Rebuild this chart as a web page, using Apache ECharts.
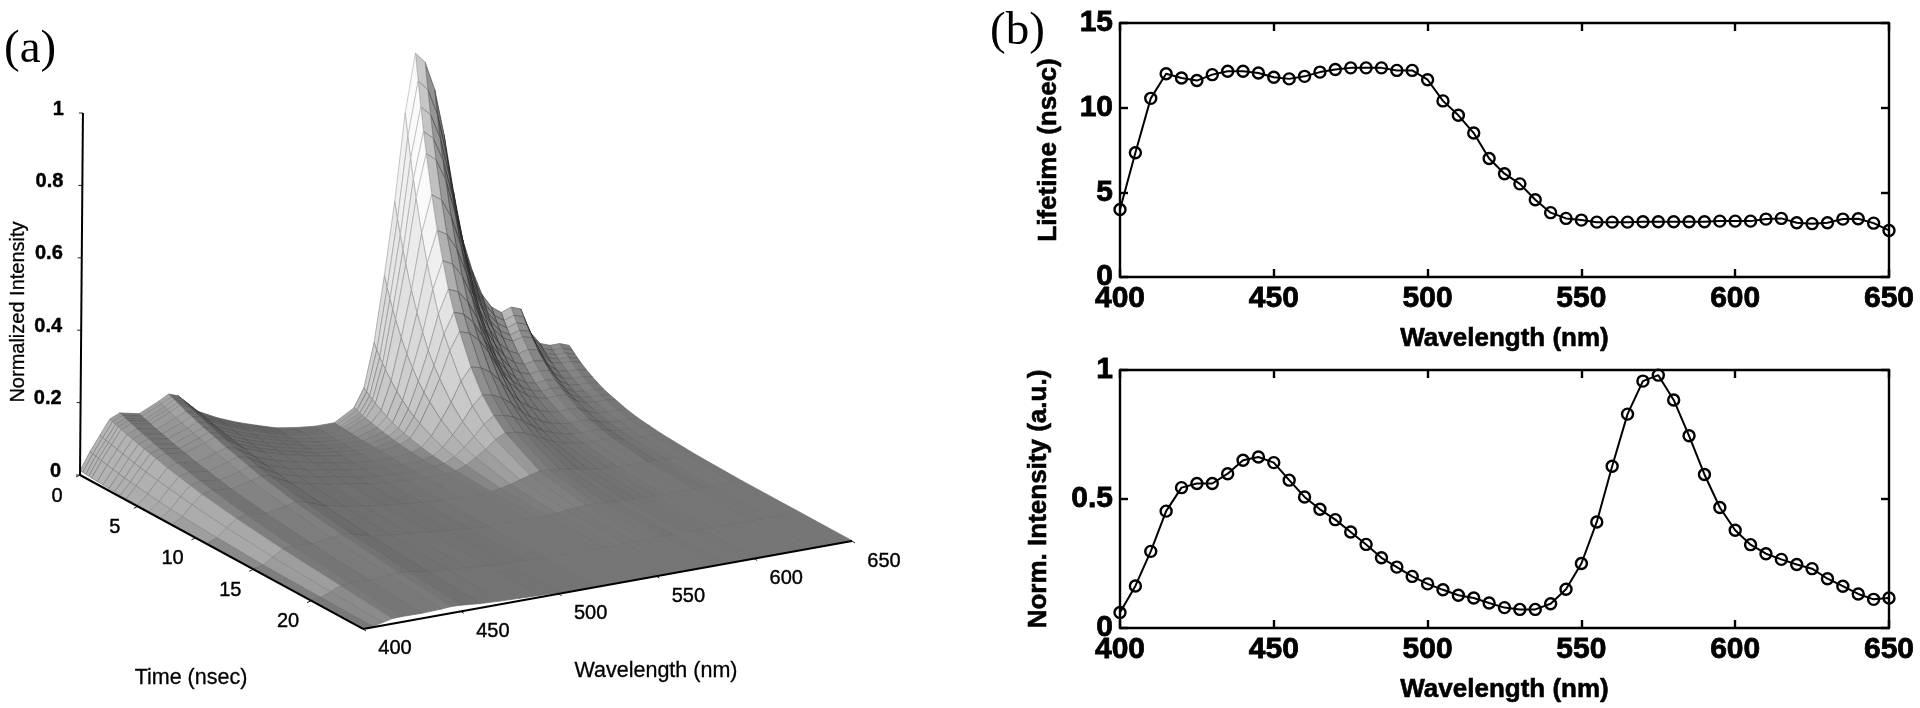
<!DOCTYPE html>
<html>
<head>
<meta charset="utf-8">
<style>
html,body{margin:0;padding:0;background:#fff;}
#c{width:1920px;height:708px;filter:blur(0.6px);}
</style>
<script src="https://cdn.jsdelivr.net/npm/echarts@6/dist/echarts.min.js"></script>
</head>
<body>
<div id="c"></div>
<script>
// ---------- panel (b) ----------
const bWavelengths = [400,405,410,415,420,425,430,435,440,445,450,455,460,465,470,475,480,485,490,495,500,505,510,515,520,525,530,535,540,545,550,555,560,565,570,575,580,585,590,595,600,605,610,615,620,625,630,635,640,645,650];
const lifetime = [3.99,7.34,10.55,12.0,11.75,11.6,11.95,12.15,12.15,12.05,11.8,11.7,11.85,12.1,12.25,12.35,12.35,12.35,12.2,12.2,11.65,10.4,9.55,8.5,7.0,6.1,5.5,4.56,3.8,3.46,3.36,3.24,3.24,3.24,3.26,3.26,3.26,3.26,3.26,3.3,3.3,3.3,3.42,3.46,3.2,3.15,3.2,3.42,3.44,3.18,2.75];
const normIntensity = [0.06,0.163,0.297,0.453,0.544,0.56,0.56,0.598,0.65,0.663,0.641,0.573,0.508,0.46,0.42,0.372,0.324,0.272,0.236,0.2,0.171,0.148,0.127,0.116,0.097,0.079,0.072,0.072,0.094,0.15,0.25,0.411,0.627,0.829,0.957,0.98,0.884,0.745,0.595,0.467,0.379,0.323,0.288,0.266,0.246,0.23,0.191,0.162,0.132,0.111,0.116];

// ---------- panel (a) ----------
const surfaceTimes = [0,0.25,0.5,0.75,1,1.5,2,2.5,3,3.5,4,5,6,7,8,11,15,20,24.5];
const surfaceWavelengths = [400,405,410,415,420,430,440,445,450,460,470,480,490,500,510,520,530,540,545,550,555,560,565,570,575,580,585,590,595,600,605,610,615,620,625,630,635,640,645,650];
const intensityT0   = [.012,.06,.10,.14,.152,.14,.165,.18,.17,.118,.09,.068,.05,.033,.024,.018,.018,.05,.10,.22,.40,.60,.84,1.0,.97,.89,.76,.60,.46,.37,.30,.26,.24,.25,.24,.17,.135,.125,.125,.115];
const intensityT025 = [.012,.058,.098,.137,.149,.137,.162,.176,.167,.116,.088,.067,.049,.032,.023,.017,.017,.047,.093,.204,.371,.556,.779,.927,.899,.825,.705,.556,.426,.343,.278,.241,.222,.232,.222,.158,.125,.116,.116,.107];
const intensityT05  = [.011,.056,.095,.134,.146,.134,.158,.173,.163,.113,.086,.065,.048,.032,.023,.017,.016,.044,.086,.189,.344,.516,.722,.86,.834,.765,.654,.516,.396,.318,.258,.224,.206,.215,.206,.146,.116,.108,.108,.099];
const intensityT075 = [.01,.054,.093,.132,.143,.132,.155,.169,.16,.111,.085,.064,.047,.031,.022,.016,.016,.041,.08,.175,.319,.478,.669,.797,.773,.709,.606,.478,.367,.295,.239,.207,.191,.199,.191,.135,.108,.1,.1,.092];
const intensityT1   = [.009,.052,.091,.129,.14,.129,.152,.166,.156,.109,.083,.063,.046,.03,.022,.016,.015,.038,.074,.163,.296,.444,.622,.74,.718,.659,.562,.444,.34,.274,.222,.192,.178,.185,.178,.126,.1,.093,.093,.085];
const intensityT15  = [.008,.049,.087,.123,.134,.123,.145,.158,.15,.104,.079,.06,.044,.029,.02,.014,.014,.034,.064,.14,.254,.381,.533,.635,.616,.565,.483,.381,.292,.235,.191,.165,.152,.159,.152,.108,.086,.079,.079,.073];
const intensityT2   = [.007,.045,.083,.119,.129,.119,.14,.153,.145,.1,.077,.058,.043,.028,.019,.013,.012,.03,.055,.12,.218,.327,.458,.545,.529,.485,.414,.327,.251,.202,.164,.142,.131,.136,.131,.093,.074,.068,.068,.063];
const intensityT25  = [.006,.042,.079,.114,.124,.114,.134,.146,.139,.096,.073,.055,.041,.027,.018,.012,.011,.026,.047,.103,.188,.282,.395,.47,.456,.418,.357,.282,.216,.174,.141,.122,.113,.118,.113,.08,.063,.059,.059,.054];
const intensityT3   = [.006,.039,.075,.109,.119,.109,.129,.14,.133,.092,.07,.053,.039,.026,.018,.012,.01,.023,.04,.088,.16,.24,.336,.40,.388,.356,.304,.24,.184,.148,.12,.104,.096,.1,.096,.068,.054,.05,.05,.046];
const intensityT35  = [.005,.036,.071,.105,.114,.105,.124,.135,.127,.088,.067,.051,.037,.025,.017,.011,.009,.02,.035,.076,.138,.207,.29,.345,.335,.307,.262,.207,.159,.128,.104,.09,.083,.086,.083,.059,.047,.043,.043,.04];
const intensityT4   = [.004,.034,.068,.101,.109,.101,.119,.13,.122,.085,.065,.049,.036,.024,.016,.01,.009,.017,.03,.066,.12,.18,.252,.30,.291,.267,.228,.18,.138,.111,.09,.078,.072,.075,.072,.051,.041,.038,.038,.035];
const intensityT5   = [.003,.03,.062,.092,.1,.092,.109,.119,.112,.078,.059,.045,.033,.022,.014,.009,.007,.013,.022,.048,.088,.132,.185,.22,.213,.196,.167,.132,.101,.081,.066,.057,.053,.055,.053,.037,.03,.028,.028,.025];
const intensityT6   = [.003,.026,.057,.085,.093,.085,.101,.11,.104,.072,.055,.041,.031,.02,.013,.008,.006,.01,.016,.035,.064,.096,.134,.16,.155,.142,.122,.096,.074,.059,.048,.042,.038,.04,.038,.027,.022,.02,.02,.018];
const intensityT7   = [.002,.022,.052,.078,.085,.078,.092,.101,.095,.066,.05,.038,.028,.018,.011,.007,.005,.008,.012,.026,.048,.072,.101,.12,.116,.107,.091,.072,.055,.044,.036,.031,.029,.03,.029,.02,.016,.015,.015,.014];
const intensityT8   = [.002,.019,.047,.071,.078,.071,.084,.092,.087,.06,.046,.035,.026,.017,.01,.006,.004,.006,.009,.02,.036,.054,.076,.09,.087,.08,.068,.054,.041,.033,.027,.023,.022,.023,.022,.015,.012,.011,.011,.01];
const intensityT11  = [.001,.013,.035,.056,.061,.056,.066,.072,.068,.047,.036,.027,.02,.013,.007,.004,.003,.003,.004,.008,.014,.022,.03,.036,.035,.032,.027,.022,.017,.013,.011,.009,.009,.009,.009,.006,.005,.005,.005,.004];
const intensityT15n = [.001,.007,.024,.041,.044,.041,.048,.052,.049,.034,.026,.02,.015,.01,.005,.002,.002,.001,.001,.002,.004,.007,.009,.011,.011,.01,.008,.007,.005,.004,.003,.003,.003,.003,.003,.002,.001,.001,.001,.001];
const intensityT20  = [0,.004,.015,.027,.029,.027,.031,.034,.032,.022,.017,.013,.01,.006,.003,.001,.001,.001,.001,.001,.001,.002,.002,.003,.003,.003,.002,.002,.002,.001,.001,.001,.001,.001,.001,.001,.001,.001,.001,.001];
const intensityT24  = [0,.002,.008,.014,.015,.014,.016,.018,.017,.012,.009,.007,.005,.003,.002,.001,.001,.001,.001,.001,.001,.001,.001,.001,.001,.001,.001,.001,.001,.001,.001,.001,.001,.001,.001,.001,.001,.001,.001,.001];
const surfaceRows = [intensityT0,intensityT025,intensityT05,intensityT075,intensityT1,intensityT15,intensityT2,intensityT25,intensityT3,intensityT35,intensityT4,intensityT5,intensityT6,intensityT7,intensityT8,intensityT11,intensityT15n,intensityT20,intensityT24];
const timeTicks = [0,5,10,15,20];
const wavelengthTicks = [400,450,500,550,600,650];
const intensityTicks = [0,0.2,0.4,0.6,0.8,1];
const timeEnd = 24.5;

// oblique view of the (time, wavelength, intensity) box onto the hidden scene axes
function project(t, wl, z) {
  return [(wl - 400) + t * 5.906 + z * 1.5, z + (wl - 400) * 0.000972 - t * 0.01736];
}

const cellData = [];
for (let i = 0; i < surfaceTimes.length - 1; i++) {
  for (let j = surfaceWavelengths.length - 2; j >= 0; j--) cellData.push([i, j]);
}

function renderCell(params, api) {
  const i = api.value(0), j = api.value(1);
  const t0 = surfaceTimes[i], t1 = surfaceTimes[i + 1];
  const w0 = surfaceWavelengths[j], w1 = surfaceWavelengths[j + 1];
  const a = surfaceRows[i][j], b = surfaceRows[i][j + 1], c = surfaceRows[i + 1][j + 1], d = surfaceRows[i + 1][j];
  const pts = [api.coord(project(t0, w0, a)), api.coord(project(t0, w1, b)), api.coord(project(t1, w1, c)), api.coord(project(t1, w0, d))];
  const sL = ((b + c) / 2 - (a + d) / 2) / (w1 - w0) * 250;
  const sT = ((a + b) / 2 - (c + d) / 2) / (t1 - t0) * timeEnd;
  let g = 118;
  let front = 160 * Math.tanh(sT / 6);
  if (sL > 0) {
    g += 42 * Math.tanh(2 * sL * sL) + 34 * Math.tanh(sL / 4);
    front *= 1 - 0.6 * Math.tanh(sL / 6);
  } else {
    g -= 12 * Math.tanh(-3 * sL) + 30 * Math.tanh(-sL / 4);
    front *= 1 - 0.9 * Math.tanh(-sL / 6);
  }
  g = Math.max(40, Math.min(250, Math.round(g + front)));
  const steep = Math.min(1, (Math.abs(sL) + Math.abs(sT)) / 3);
  const e = Math.max(30, Math.round(g - 8 - 60 * steep));
  return {
    type: 'polygon',
    shape: { points: pts },
    style: { fill: 'rgb(' + g + ',' + g + ',' + g + ')', stroke: 'rgb(' + e + ',' + e + ',' + e + ')', lineWidth: 0.7 }
  };
}

const tickFont = '20px "Liberation Sans"';
function tickRenderer(toPoint, dx, dy, tx, ty, align, font, fmt) {
  return function (params, api) {
    const v = api.value(0);
    const p = api.coord(toPoint(v));
    return {
      type: 'group',
      children: [
        { type: 'line', shape: { x1: p[0], y1: p[1], x2: p[0] + dx, y2: p[1] + dy }, style: { stroke: '#222', lineWidth: 1 } },
        { type: 'text', x: p[0] + tx, y: p[1] + ty, style: { text: fmt(v), font: font, fill: '#000', stroke: '#000', lineWidth: 0.4, textAlign: align, textVerticalAlign: 'middle' } }
      ]
    };
  };
}

const axisLabelB = { color: '#000', fontFamily: 'Liberation Sans', fontWeight: 'bold', fontSize: 30, margin: 7, textBorderColor: '#000', textBorderWidth: 0.8 };
const nameB = { color: '#000', fontFamily: 'Liberation Sans', fontWeight: 'bold', fontSize: 26, textBorderColor: '#000', textBorderWidth: 0.6 };
const lineB = { show: true, lineStyle: { color: '#000', width: 2.4 } };
const tickB = { show: true, inside: true, length: 8, lineStyle: { color: '#000', width: 2.4 } };
function xB(gridIndex, top) {
  return {
    type: 'value', gridIndex, min: 400, max: 650, interval: 50, position: top ? 'top' : 'bottom',
    axisLine: Object.assign({}, lineB, { onZero: false }), axisTick: tickB, splitLine: { show: false },
    axisLabel: top ? { show: false } : axisLabelB,
    name: top ? '' : 'Wavelength (nm)', nameLocation: 'middle', nameGap: 49, nameTextStyle: nameB
  };
}
function yB(gridIndex, right, max, interval, name, gap) {
  return {
    type: 'value', gridIndex, min: 0, max, interval, position: right ? 'right' : 'left',
    axisLine: Object.assign({}, lineB, { onZero: false }), axisTick: tickB, splitLine: { show: false },
    axisLabel: right ? { show: false } : axisLabelB,
    name: right ? '' : name, nameLocation: 'middle', nameGap: gap, nameTextStyle: nameB
  };
}
function curve(values, xi, yi) {
  return {
    type: 'line', xAxisIndex: xi, yAxisIndex: yi, clip: false, z: 5,
    data: bWavelengths.map((w, k) => [w, values[k]]),
    symbol: 'circle', symbolSize: 11, showSymbol: true,
    lineStyle: { color: '#000', width: 2 },
    itemStyle: { color: 'rgba(255,255,255,0)', borderColor: '#000', borderWidth: 2.4 }
  };
}
function axis3d(a, b) {
  return {
    type: 'line', xAxisIndex: 4, yAxisIndex: 4, clip: false, z: 6, symbol: 'none',
    data: [project.apply(null, a), project.apply(null, b)],
    lineStyle: { color: '#000', width: 2 }
  };
}

const option = {
  animation: false,
  backgroundColor: '#fff',
  grid: [
    { left: 1120, top: 23, width: 769, height: 254, containLabel: false },
    { left: 1120, top: 370, width: 769, height: 258, containLabel: false },
    { left: 80, top: 40.6, width: 782.4, height: 615.4, containLabel: false }
  ],
  xAxis: [xB(0, false), xB(0, true), xB(1, false), xB(1, true),
    { type: 'value', gridIndex: 2, min: 0, max: 400, show: false }],
  yAxis: [yB(0, false, 15, 5, 'Lifetime (nsec)', 58), yB(0, true, 15, 5), yB(1, false, 1, 0.5, 'Norm. Intensity (a.u.)', 68), yB(1, true, 1, 0.5),
    { type: 'value', gridIndex: 2, min: -0.5, max: 1.2, show: false }],
  series: [
    curve(lifetime, 0, 0),
    curve(normIntensity, 2, 2),
    { type: 'custom', xAxisIndex: 4, yAxisIndex: 4, clip: false, z: 3, progressive: 0, silent: true, data: cellData, renderItem: renderCell },
    axis3d([0, 400, 0], [0, 400, 1]),
    axis3d([0, 400, 0], [timeEnd, 400, 0]),
    axis3d([timeEnd, 400, 0], [timeEnd, 650, 0]),
    { type: 'custom', xAxisIndex: 4, yAxisIndex: 4, clip: false, z: 6, silent: true, data: timeTicks.map(v => [v]),
      renderItem: tickRenderer(v => project(v, 400, 0), -4, 2, -23, 21, 'center', tickFont, String) },
    { type: 'custom', xAxisIndex: 4, yAxisIndex: 4, clip: false, z: 6, silent: true, data: wavelengthTicks.map(v => [v]),
      renderItem: tickRenderer(v => project(timeEnd, v, 0), 3, 2, 32, 20, 'center', tickFont, String) },
    { type: 'custom', xAxisIndex: 4, yAxisIndex: 4, clip: false, z: 6, silent: true, data: intensityTicks.map(v => [v]),
      renderItem: tickRenderer(v => project(0, 400, v), -4, 0, -19, -4, 'right', 'bold 20px "Liberation Sans"', String) }
  ],
  graphic: [
    { type: 'text', left: 4, top: 26, style: { text: '(a)', font: '47px "Liberation Serif"', fill: '#000' } },
    { type: 'text', left: 990, top: 8, style: { text: '(b)', font: '47px "Liberation Serif"', fill: '#000' } },
    { type: 'text', x: 18, y: 312, rotation: Math.PI / 2, originX: 0, originY: 0,
      style: { text: 'Normalized Intensity', font: '20px "Liberation Sans"', fill: '#000', stroke: '#000', lineWidth: 0.3, textAlign: 'center', textVerticalAlign: 'middle' } },
    { type: 'text', x: 191, y: 678, style: { text: 'Time (nsec)', font: '21.5px "Liberation Sans"', fill: '#000', stroke: '#000', lineWidth: 0.3, textAlign: 'center', textVerticalAlign: 'middle' } },
    { type: 'text', x: 656, y: 671, style: { text: 'Wavelength (nm)', font: '21.5px "Liberation Sans"', fill: '#000', stroke: '#000', lineWidth: 0.3, textAlign: 'center', textVerticalAlign: 'middle' } }
  ]
};
const chart = echarts.init(document.getElementById('c'), null, { renderer: 'canvas', width: 1920, height: 708 });
chart.setOption(option);
</script>
</body>
</html>
